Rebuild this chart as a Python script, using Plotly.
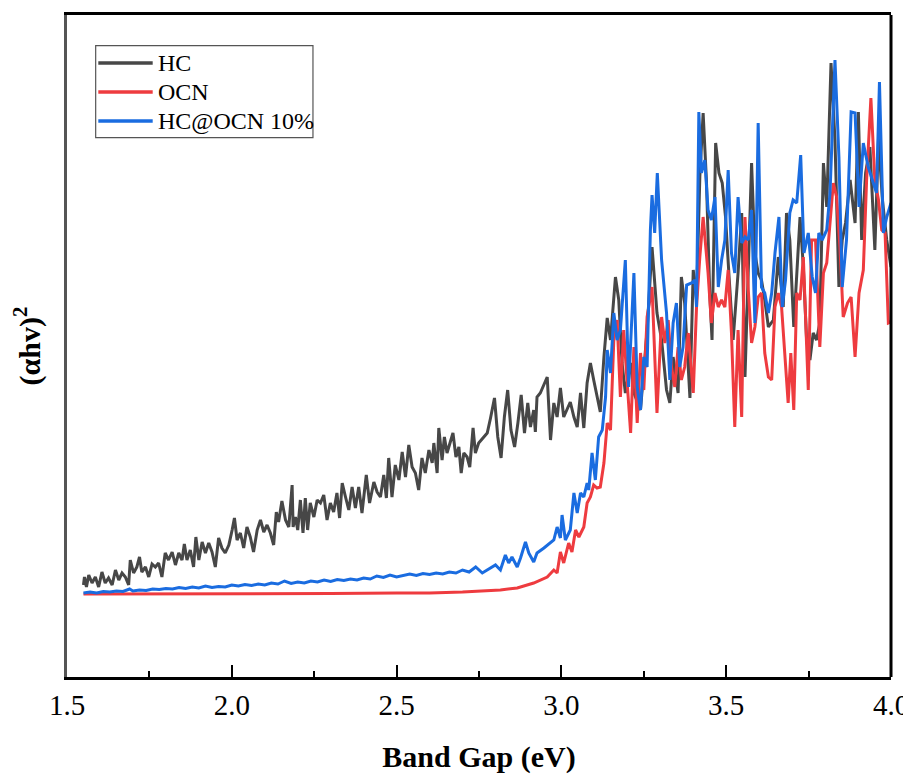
import plotly.graph_objects as go

# ---- data (x: eV, y: arbitrary units) ----
hc_ev = [1.550, 1.553, 1.559, 1.566, 1.576, 1.586, 1.596, 1.606, 1.616, 1.626, 1.637, 1.647, 1.657, 1.667, 1.677,
         1.687, 1.692, 1.702, 1.712, 1.720, 1.727, 1.738, 1.748, 1.758, 1.768, 1.778, 1.788, 1.798, 1.808, 1.819,
         1.829, 1.839, 1.849, 1.856, 1.864, 1.874, 1.884, 1.891, 1.900, 1.910, 1.920, 1.930, 1.940, 1.950, 1.960,
         1.970, 1.980, 1.991, 2.001, 2.008, 2.016, 2.026, 2.036, 2.046, 2.056, 2.066, 2.077, 2.087, 2.097, 2.107,
         2.117, 2.127, 2.135, 2.142, 2.152, 2.163, 2.173, 2.183, 2.186, 2.193, 2.200, 2.208, 2.216, 2.223, 2.230,
         2.238, 2.249, 2.259, 2.269, 2.279, 2.289, 2.299, 2.309, 2.319, 2.327, 2.335, 2.345, 2.355, 2.365, 2.375,
         2.385, 2.395, 2.408, 2.418, 2.431, 2.441, 2.451, 2.461, 2.469, 2.476, 2.486, 2.496, 2.507, 2.517, 2.527,
         2.537, 2.547, 2.557, 2.567, 2.577, 2.587, 2.598, 2.608, 2.613, 2.623, 2.628, 2.638, 2.645, 2.653, 2.661,
         2.671, 2.680, 2.689, 2.696, 2.704, 2.714, 2.722, 2.732, 2.739, 2.749, 2.764, 2.775, 2.785, 2.797, 2.807,
         2.817, 2.827, 2.837, 2.847, 2.858, 2.868, 2.878, 2.888, 2.898, 2.906, 2.916, 2.921, 2.926, 2.936, 2.947,
         2.957, 2.967, 2.977, 2.987, 2.997, 3.007, 3.017, 3.027, 3.038, 3.048, 3.058, 3.068, 3.078, 3.088, 3.098,
         3.108, 3.118, 3.129, 3.139, 3.149, 3.164, 3.174, 3.184, 3.194, 3.210, 3.220, 3.240, 3.260, 3.275, 3.290,
         3.304, 3.319, 3.329, 3.339, 3.354, 3.364, 3.374, 3.390, 3.400, 3.410, 3.420, 3.430, 3.440, 3.450, 3.457,
         3.468, 3.478, 3.488, 3.498, 3.508, 3.521, 3.536, 3.547, 3.557, 3.567, 3.577, 3.587, 3.597, 3.607, 3.617,
         3.628, 3.643, 3.658, 3.673, 3.683, 3.693, 3.705, 3.714, 3.724, 3.734, 3.744, 3.754, 3.764, 3.774, 3.784,
         3.795, 3.805, 3.818, 3.830, 3.842, 3.852, 3.862, 3.876, 3.891, 3.901, 3.911, 3.923, 3.936, 3.951, 3.962,
         3.974, 3.987, 4.000]
hc_int = [92, 100, 90, 102, 94, 100, 90, 105, 94, 99, 92, 107, 97, 104, 100,
          92, 117, 104, 110, 120, 105, 110, 100, 113, 110, 114, 100, 124, 117, 125,
          112, 124, 117, 133, 117, 127, 110, 140, 117, 135, 124, 134, 125, 110, 139,
          129, 124, 132, 147, 159, 137, 144, 129, 150, 140, 125, 147, 157, 145, 152,
          144, 132, 165, 155, 176, 157, 150, 192, 150, 160, 147, 177, 144, 179, 147,
          174, 160, 177, 174, 182, 157, 174, 165, 184, 159, 194, 180, 167, 190, 169,
          190, 164, 202, 174, 195, 185, 180, 202, 179, 219, 180, 212, 197, 225, 200,
          232, 210, 204, 187, 219, 204, 227, 214, 234, 204, 249, 217, 240, 224, 232,
          244, 220, 230, 204, 224, 220, 210, 249, 224, 234, 240, 244, 259, 279, 240,
          219, 260, 287, 247, 230, 254, 282, 244, 274, 250, 267, 245, 280, 284, 292,
          300, 237, 274, 260, 289, 260, 267, 275, 260, 250, 284, 249, 294, 314, 297,
          280, 265, 320, 359, 337, 400, 377, 314, 284, 314, 284, 267, 347, 430, 364,
          337, 287, 274, 320, 284, 400, 374, 279, 407, 377, 500, 564, 497, 384, 337,
          534, 504, 494, 460, 404, 337, 404, 464, 300, 404, 514, 424, 404, 397, 377,
          350, 357, 420, 370, 464, 437, 350, 397, 460, 410, 337, 317, 344, 337, 354,
          514, 470, 614, 537, 390, 437, 454, 497, 454, 565, 437, 504, 530, 427, 538,
          477, 437, 410]

ocn_ev = [1.550, 1.700, 1.900, 2.100, 2.300, 2.500, 2.600, 2.700, 2.750, 2.800, 2.815, 2.866, 2.916, 2.957, 2.977,
          2.987, 2.997, 3.007, 3.022, 3.032, 3.043, 3.053, 3.068, 3.078, 3.088, 3.098, 3.108, 3.118, 3.129, 3.139,
          3.149, 3.159, 3.169, 3.179, 3.189, 3.199, 3.210, 3.220, 3.230, 3.240, 3.250, 3.260, 3.275, 3.290, 3.304,
          3.314, 3.324, 3.334, 3.344, 3.354, 3.364, 3.374, 3.385, 3.400, 3.410, 3.420, 3.430, 3.445, 3.455, 3.466,
          3.476, 3.486, 3.496, 3.506, 3.516, 3.526, 3.536, 3.547, 3.557, 3.567, 3.577, 3.587, 3.597, 3.607, 3.617,
          3.628, 3.638, 3.648, 3.658, 3.668, 3.678, 3.688, 3.696, 3.705, 3.714, 3.724, 3.734, 3.749, 3.759, 3.771,
          3.784, 3.795, 3.805, 3.815, 3.825, 3.835, 3.845, 3.855, 3.868, 3.879, 3.891, 3.903, 3.916, 3.926, 3.939,
          3.951, 3.962, 3.972, 3.982, 3.992, 4.000]
ocn_int = [83, 83, 83, 83, 83.5, 84, 84, 85, 86, 87, 87, 89, 94, 100, 107,
           104, 125, 114, 134, 125, 147, 140, 150, 174, 180, 192, 189, 190, 214, 254,
           247, 337, 357, 280, 347, 297, 244, 330, 254, 324, 287, 360, 390, 264, 360,
           334, 357, 310, 290, 330, 297, 310, 344, 284, 370, 420, 460, 404, 354, 384,
           370, 377, 370, 407, 344, 250, 347, 260, 460, 387, 334, 350, 380, 384, 324,
           300, 297, 370, 384, 370, 317, 274, 324, 267, 384, 377, 420, 287, 437, 437,
           330, 404, 414, 450, 494, 480, 430, 360, 374, 380, 320, 384, 407, 497, 579,
           497, 477, 447, 444, 354, 355]

hco_ev = [1.550, 1.570, 1.590, 1.610, 1.630, 1.650, 1.670, 1.690, 1.700, 1.720, 1.740, 1.760, 1.780, 1.800, 1.820,
          1.840, 1.860, 1.880, 1.900, 1.920, 1.940, 1.960, 1.980, 2.000, 2.020, 2.040, 2.060, 2.080, 2.100, 2.120,
          2.140, 2.160, 2.180, 2.200, 2.220, 2.240, 2.260, 2.280, 2.300, 2.320, 2.340, 2.360, 2.380, 2.400, 2.420,
          2.440, 2.460, 2.480, 2.500, 2.520, 2.540, 2.560, 2.580, 2.600, 2.620, 2.640, 2.660, 2.680, 2.700, 2.720,
          2.740, 2.760, 2.780, 2.800, 2.815, 2.830, 2.840, 2.850, 2.866, 2.876, 2.891, 2.901, 2.916, 2.926, 2.947,
          2.967, 2.977, 2.987, 2.997, 3.002, 3.012, 3.027, 3.038, 3.048, 3.058, 3.068, 3.078, 3.083, 3.093, 3.103,
          3.113, 3.124, 3.134, 3.139, 3.149, 3.159, 3.169, 3.179, 3.194, 3.204, 3.220, 3.230, 3.240, 3.250, 3.260,
          3.270, 3.275, 3.283, 3.291, 3.304, 3.319, 3.329, 3.339, 3.349, 3.359, 3.369, 3.380, 3.395, 3.405, 3.410,
          3.417, 3.425, 3.435, 3.445, 3.455, 3.466, 3.476, 3.486, 3.496, 3.506, 3.516, 3.526, 3.536, 3.547, 3.557,
          3.567, 3.577, 3.587, 3.597, 3.607, 3.617, 3.628, 3.638, 3.648, 3.660, 3.670, 3.680, 3.693, 3.703, 3.714,
          3.726, 3.736, 3.749, 3.761, 3.771, 3.781, 3.791, 3.805, 3.815, 3.830, 3.842, 3.852, 3.865, 3.879, 3.891,
          3.903, 3.916, 3.931, 3.946, 3.956, 3.965, 3.977, 3.987, 4.000]
hco_int = [84, 85, 84, 85.5, 85, 86, 85.5, 88, 86, 87, 86.5, 88, 87.5, 88.5, 88,
           89.5, 88.5, 90, 89, 91, 89.5, 90.5, 90, 92, 91, 92.5, 91.5, 93, 92, 94,
           93, 96, 93.5, 95, 94, 96, 95, 97, 95.5, 97.5, 96.5, 98, 97, 99, 98,
           101, 99.5, 102, 100, 101.5, 103, 101.5, 103.5, 102.5, 104, 103, 105, 104, 107, 105,
           110, 104, 108, 112, 107, 122, 114, 120, 110, 119, 135, 124, 115, 124, 129,
           134, 137, 150, 139, 162, 137, 147, 184, 164, 184, 180, 194, 187, 224, 197,
           240, 247, 280, 327, 304, 364, 337, 347, 417, 290, 404, 290, 267, 320, 310,
           447, 482, 444, 504, 417, 364, 297, 354, 374, 310, 330, 392, 394, 397, 370,
           565, 504, 517, 467, 457, 480, 390, 417, 437, 507, 424, 404, 480, 434, 440,
           437, 467, 354, 554, 390, 384, 364, 384, 424, 460, 370, 397, 464, 477, 474,
           522, 424, 444, 400, 384, 444, 437, 447, 484, 617, 520, 390, 437, 565, 564,
           470, 534, 510, 494, 484, 595, 444, 460, 474]

series_names = ["HC", "OCN", "HC@OCN 10%"]
series_colors = ["#474747", "#EE3B3F", "#1A6CE0"]
x_ticks = [1.5, 2.0, 2.5, 3.0, 3.5, 4.0]
x_tick_labels = ["1.5", "2.0", "2.5", "3.0", "3.5", "4.0"]

FONT = "Liberation Serif, Times New Roman, serif"

fig = go.Figure()
for name, xs, ys, col in zip(series_names, [hc_ev, ocn_ev, hco_ev], [hc_int, ocn_int, hco_int], series_colors):
    fig.add_trace(go.Scatter(x=xs, y=ys, mode="lines", name=name,
                             line=dict(color=col, width=3), showlegend=False))

# the page body adds an 8px offset, so the figure is sized to fit the 911x774 window
fig.update_layout(
    width=903, height=766,
    margin=dict(l=59, r=20, t=7, b=97),
    paper_bgcolor="white", plot_bgcolor="white",
    font=dict(family=FONT, color="black"),
    showlegend=False,
    xaxis=dict(range=[1.5, 4.0], tickmode="array", tickvals=x_ticks, ticktext=x_tick_labels,
               ticks="inside", ticklen=12, tickwidth=2, tickcolor="black",
               minor=dict(dtick=0.25, ticks="inside", ticklen=6, tickwidth=2, tickcolor="black"),
               showline=True, linecolor="black", linewidth=3, mirror=True,
               showgrid=False, zeroline=False, automargin=False,
               tickfont=dict(family=FONT, size=29, color="black"),
               title=dict(text="<b>Band Gap (eV)</b>", font=dict(family=FONT, size=30, color="black"),
                          standoff=27)),
    yaxis=dict(range=[0, 662], showticklabels=False, ticks="",
               showline=True, linecolor="#555555", linewidth=3, mirror=False,
               showgrid=False, zeroline=False, automargin=False,
               title=dict(text="<b>(αhv)<sup>2</sup></b>", font=dict(family=FONT, size=30, color="black"),
                          standoff=20)),
)
fig.add_shape(type="line", xref="paper", yref="paper", x0=1, x1=1, y0=0, y1=1,
              line=dict(color="black", width=3))

# ---- legend box drawn as in the reference ----
leg_x0, leg_x1, leg_y0, leg_y1 = 0.0348, 0.2985, 0.8147, 0.9536
fig.add_shape(type="rect", xref="paper", yref="paper", x0=leg_x0, x1=leg_x1, y0=leg_y0, y1=leg_y1,
              line=dict(color="#555555", width=1.2), fillcolor="white", layer="below")
leg_rows = [0.9275, 0.8837, 0.8399]
for name, col, yy in zip(series_names, series_colors, leg_rows):
    fig.add_shape(type="line", xref="paper", yref="paper", x0=0.038, x1=0.104, y0=yy, y1=yy,
                  line=dict(color=col, width=3.5))
    fig.add_annotation(xref="paper", yref="paper", x=0.1085, y=yy, text=name, showarrow=False,
                       xanchor="left", yanchor="middle",
                       font=dict(family=FONT, size=24, color="black"))

fig.write_html("out.html")
